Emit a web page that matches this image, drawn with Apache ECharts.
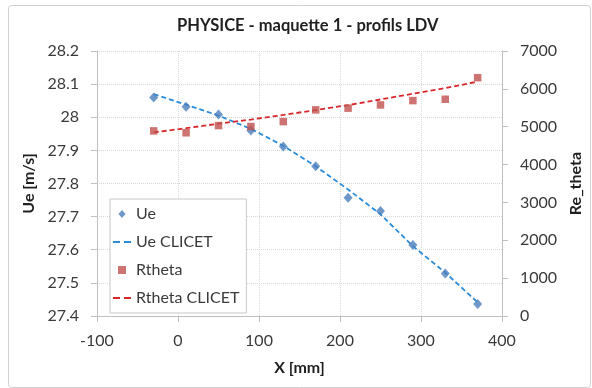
<!DOCTYPE html>
<html>
<head>
<meta charset="utf-8">
<script src="https://cdn.jsdelivr.net/npm/echarts@6/dist/echarts.min.js"></script>
<style>
html,body{margin:0;padding:0;background:#fff;}
#c{width:592px;height:388px;}
</style>
</head>
<body>
<div id="c"></div>
<script>
const xPos = [-30, 10, 50, 90, 130, 170, 210, 250, 290, 330, 370];
const ueMeas = [28.060, 28.032, 28.008, 27.960, 27.912, 27.852, 27.757, 27.717, 27.614, 27.528, 27.436];
const ueClicet = [28.070, 28.038, 28.005, 27.965, 27.914, 27.852, 27.782, 27.707, 27.611, 27.531, 27.441];
const rthetaMeas = [4890, 4840, 5030, 5005, 5135, 5445, 5490, 5575, 5690, 5725, 6295];
const rthetaClicet = [4850, 4960, 5080, 5190, 5310, 5440, 5570, 5720, 5870, 6020, 6190];
const xTicks = {min: -100, max: 400, step: 100};
const ueTicks = {min: 27.4, max: 28.2, step: 0.1};
const reTicks = {min: 0, max: 7000, step: 1000};

const pairs = (xs, ys) => xs.map((x, i) => [x, ys[i]]);
const FONT = 'Lato';
const TXT = '#3a3a3a';
const DARK = '#1f1f1f';
const C_UE = '#4a7ebb', C_UE_L = '#2a8bd8', C_RT = '#c0504d', C_RT_L = '#d9262b';
const DASH_ICON = 'path://M0,0h7v2h-7z M11,0h7v2h-7z';
const DIAMOND_ICON = 'path://M4,0L8,4.5L4,9L0,4.5Z';
const SQUARE_ICON = 'path://M0,0h7v7h-7z';

const chart = echarts.init(document.getElementById('c'), null, {renderer: 'canvas'});
chart.setOption({
  animation: false,
  backgroundColor: '#fff',
  graphic: [{
    type: 'rect', left: 6, top: 3,
    shape: {width: 582, height: 382, r: 3},
    style: {fill: 'none', stroke: '#d0d0d0', lineWidth: 1}, silent: true
  }],
  title: {
    text: 'PHYSICE - maquette 1 - profils LDV',
    left: 172, top: 12,
    textStyle: {fontFamily: FONT, fontSize: 16.5, fontWeight: 'bold', color: DARK}
  },
  grid: {left: 97, right: 88, top: 51, bottom: 72, containLabel: false},
  legend: {
    orient: 'vertical', left: 110, top: 199,
    padding: [7, 7, 7, 3], itemGap: 12, itemWidth: 18, itemHeight: 8,
    symbolKeepAspect: true,
    backgroundColor: '#fff', borderColor: '#c8c8c8', borderWidth: 1,
    textStyle: {fontFamily: FONT, fontSize: 16, color: TXT, lineHeight: 16},
    data: [
      {name: 'Ue', icon: DIAMOND_ICON},
      {name: 'Ue CLICET', icon: DASH_ICON},
      {name: 'Rtheta', icon: SQUARE_ICON},
      {name: 'Rtheta CLICET', icon: DASH_ICON}
    ]
  },
  xAxis: {
    type: 'value', min: xTicks.min, max: xTicks.max, interval: xTicks.step,
    name: 'X [mm]', nameLocation: 'middle', nameGap: 44,
    nameTextStyle: {fontFamily: FONT, fontSize: 16, fontWeight: 'bold', color: DARK},
    axisLine: {show: true, onZero: false, lineStyle: {color: '#bfbfbf'}},
    axisTick: {show: true, length: 6, lineStyle: {color: '#bfbfbf'}},
    axisLabel: {fontFamily: FONT, fontSize: 16, color: TXT, margin: 17},
    splitLine: {show: true, lineStyle: {color: '#d9d9d9', type: [1, 1]}}
  },
  yAxis: [{
    type: 'value', min: ueTicks.min, max: ueTicks.max, interval: ueTicks.step,
    name: 'Ue [m/s]', nameLocation: 'middle', nameGap: 60, nameRotate: 90,
    nameTextStyle: {fontFamily: FONT, fontSize: 16, fontWeight: 'bold', color: DARK},
    axisLine: {show: true, onZero: false, lineStyle: {color: '#bfbfbf'}},
    axisTick: {show: true, length: 6, lineStyle: {color: '#bfbfbf'}},
    axisLabel: {fontFamily: FONT, fontSize: 16, color: TXT, margin: 18,
      formatter: v => String(Math.round(v * 10) / 10)},
    splitLine: {show: true, lineStyle: {color: '#d9d9d9', type: [1, 1]}}
  }, {
    type: 'value', min: reTicks.min, max: reTicks.max, interval: reTicks.step,
    position: 'right',
    name: 'Re_theta', nameLocation: 'middle', nameGap: 64, nameRotate: 90,
    nameTextStyle: {fontFamily: FONT, fontSize: 16, fontWeight: 'bold', color: DARK},
    axisLine: {show: true, onZero: false, lineStyle: {color: '#bfbfbf'}},
    axisTick: {show: true, length: 6, lineStyle: {color: '#bfbfbf'}},
    axisLabel: {fontFamily: FONT, fontSize: 16, color: TXT, margin: 18,
      formatter: v => String(Math.round(v))},
    splitLine: {show: false}
  }],
  series: [{
    name: 'Ue', type: 'scatter', yAxisIndex: 0,
    symbol: 'diamond', symbolSize: [9, 10],
    itemStyle: {color: C_UE}, z: 4,
    data: pairs(xPos, ueMeas)
  }, {
    name: 'Ue CLICET', type: 'line', yAxisIndex: 0,
    symbol: 'none', smooth: false,
    lineStyle: {color: C_UE_L, width: 1.8, type: [5, 3]},
    itemStyle: {color: C_UE_L}, z: 3,
    data: pairs(xPos, ueClicet)
  }, {
    name: 'Rtheta', type: 'scatter', yAxisIndex: 1,
    symbol: 'rect', symbolSize: 7.5,
    itemStyle: {color: C_RT}, z: 4,
    data: pairs(xPos, rthetaMeas)
  }, {
    name: 'Rtheta CLICET', type: 'line', yAxisIndex: 1,
    symbol: 'none', smooth: false,
    lineStyle: {color: C_RT_L, width: 1.8, type: [5, 3]},
    itemStyle: {color: C_RT_L}, z: 3,
    data: pairs(xPos, rthetaClicet)
  }]
});
</script>
</body>
</html>
